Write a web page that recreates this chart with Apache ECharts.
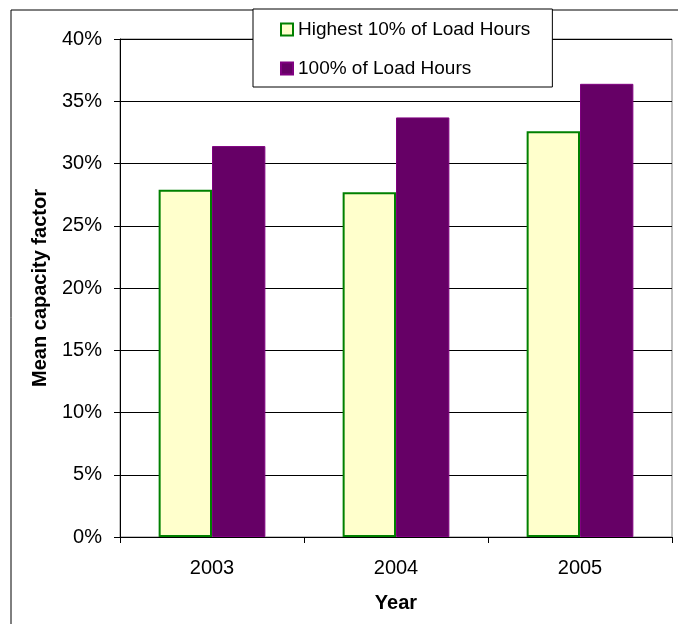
<!DOCTYPE html>
<html>
<head>
<meta charset="utf-8">
<script src="https://cdn.jsdelivr.net/npm/echarts@6/dist/echarts.min.js"></script>
<style>
  html, body { margin: 0; padding: 0; background: #fff; }
  #chart { width: 678px; height: 624px; }
</style>
</head>
<body>
<div id="chart"></div>
<script>
// Mean capacity factor by year (percent)
const years = ['2003', '2004', '2005'];
const highest10 = [27.9, 27.7, 32.6];
const allHours = [31.4, 33.7, 36.4];
const yTicks = { min: 0, max: 40, step: 5 };

const font = 'Liberation Sans, Arial, sans-serif';
const chart = echarts.init(document.getElementById('chart'));

chart.setOption({
  animation: false,
  backgroundColor: '#fff',
  textStyle: { fontFamily: font, color: '#000' },
  graphic: [{
    type: 'rect',
    shape: { x: 11, y: 10, width: 720, height: 720 },
    style: { fill: 'none', stroke: '#000', lineWidth: 1 },
    z: 0,
    silent: true
  }],
  grid: {
    left: 120, right: 6, top: 39, bottom: 87,
    show: true, borderColor: '#808080', borderWidth: 1, backgroundColor: 'transparent'
  },
  legend: {
    orient: 'vertical',
    left: 253, top: 9,
    padding: [11, 22, 9, 27],
    itemGap: 20,
    itemWidth: 12, itemHeight: 12,
    icon: 'rect',
    backgroundColor: '#fff',
    borderColor: '#000',
    borderWidth: 1,
    textStyle: { fontSize: 19, fontFamily: font, color: '#000' },
    z: 10,
    data: ['Highest 10% of Load Hours', '100% of Load Hours']
  },
  xAxis: {
    type: 'category',
    data: years,
    name: 'Year',
    nameLocation: 'middle',
    nameGap: 56,
    nameTextStyle: { fontSize: 20, fontWeight: 'bold', color: '#000' },
    axisLine: { lineStyle: { color: '#000', width: 1 } },
    axisTick: { show: true, alignWithLabel: false, length: 6, lineStyle: { color: '#000' } },
    axisLabel: { fontSize: 20, color: '#000', margin: 21 },
    splitLine: { show: false }
  },
  yAxis: {
    type: 'value',
    min: yTicks.min, max: yTicks.max, interval: yTicks.step,
    name: 'Mean capacity factor',
    nameLocation: 'middle',
    nameRotate: 90,
    nameGap: 70,
    nameTextStyle: { fontSize: 20, fontWeight: 'bold', color: '#000' },
    axisLine: { show: true, lineStyle: { color: '#000', width: 1 } },
    axisTick: { show: true, length: 6, lineStyle: { color: '#000' } },
    axisLabel: { fontSize: 20, color: '#000', margin: 18, formatter: '{value}%' },
    splitLine: { show: true, lineStyle: { color: '#000', width: 1 } }
  },
  series: [
    {
      name: 'Highest 10% of Load Hours',
      type: 'bar',
      data: highest10,
      barGap: '0%',
      barCategoryGap: '42%',
      itemStyle: { color: '#FFFFCC', borderColor: '#008000', borderWidth: 2 }
    },
    {
      name: '100% of Load Hours',
      type: 'bar',
      data: allHours,
      barGap: '0%',
      barCategoryGap: '42%',
      itemStyle: { color: '#660066', borderColor: '#800080', borderWidth: 1 }
    }
  ]
});
</script>
</body>
</html>
